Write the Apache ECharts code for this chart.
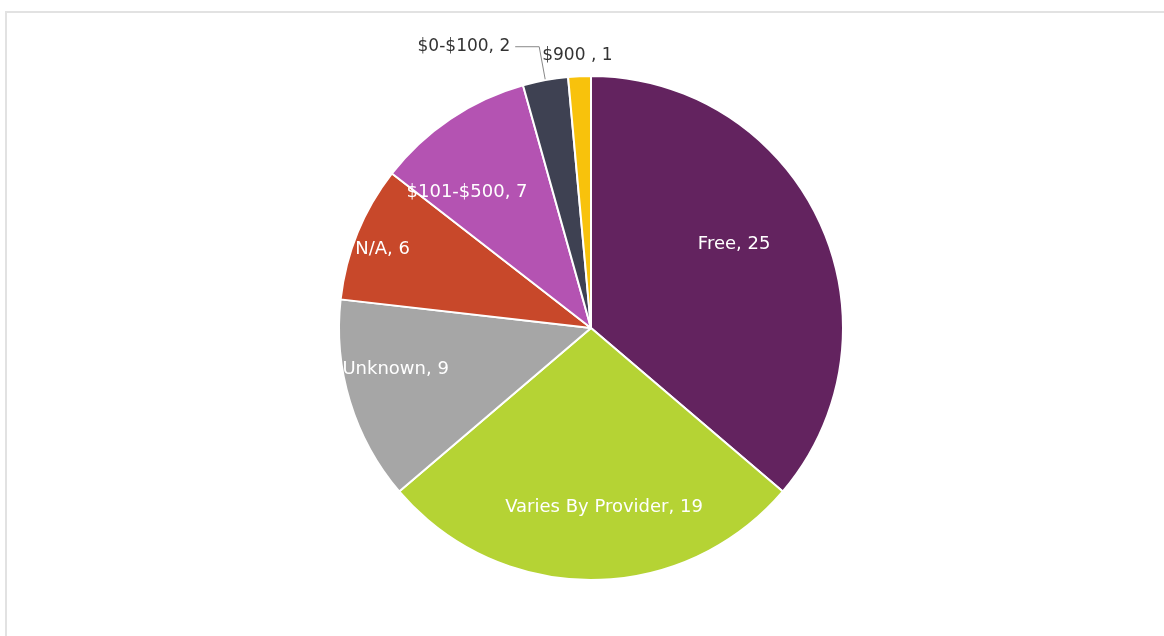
<!DOCTYPE html>
<html lang="en">
<head>
    <meta charset="UTF-8">
    <title>Cost</title>
    <script src="https://cdn.jsdelivr.net/npm/echarts@6/dist/echarts.min.js"></script>
    <style>
        html, body { margin: 0; padding: 0; background: #fff; }
    </style>
</head>
<body>
    <div id="main" style="width: 1164px;height:636px;"></div>
</body>
<script type="text/javascript">

    // 数据
    var categories = ['Free', 'Varies By Provider', 'Unknown', 'N/A', '$101-$500', '$0-$100', '$900 '];
    var values = [25, 19, 9, 6, 7, 2, 1];
    var colors = ['#63235f', '#b5d334', '#a6a6a6', '#c8482a', '#b453b2', '#3e4152', '#f8c20c'];

    // 标签微调 (相对默认位置)
    var labelNudge = [[26, -30], [13, 50], [-72, 4], [-89, -30], [-52, -29], null, [38, -21]];

    var myChart = echarts.init(document.getElementById('main'));

    var pieData = [];
    for (var i = 0; i < categories.length; i++) {
        var item = {
            name: categories[i],
            value: values[i],
            itemStyle: { color: colors[i] }
        };
        if (i >= 5) {
            item.label = {
                position: 'outside',
                color: '#333',
                fontSize: 17
            };
            item.labelLine = i === 5 ? { show: true, length: 34, length2: 24 } : { show: false, length: 0, length2: 0 };
        }
        pieData.push(item);
    }

    option = {
        animation: false,
        backgroundColor: '#fff',
        graphic: [{
            type: 'rect',
            shape: { x: 6, y: 12, width: 1300, height: 800 },
            style: { fill: 'none', stroke: '#e2e2e2', lineWidth: 2 },
            silent: true
        }],
        series: [{
            type: 'pie',
            center: [591, 328],
            radius: [0, 252],
            startAngle: 90,
            clockwise: true,
            avoidLabelOverlap: false,
            itemStyle: { borderColor: '#fff', borderWidth: 2 },
            label: {
                position: 'inside',
                color: '#fff',
                fontFamily: 'DejaVu Sans',
                fontSize: 18,
                formatter: function (p) { return p.name + ', ' + p.value; }
            },
            labelLine: { lineStyle: { color: '#888', width: 1 } },
            labelLayout: function (params) {
                var n = labelNudge[params.dataIndex];
                if (!n) return {};
                var r = params.labelRect;
                return {
                    x: r.x + r.width / 2 + n[0],
                    y: r.y + r.height / 2 + n[1],
                    align: 'center',
                    verticalAlign: 'middle'
                };
            },
            data: pieData
        }]
    };
    myChart.setOption(option);

</script>
</html>
